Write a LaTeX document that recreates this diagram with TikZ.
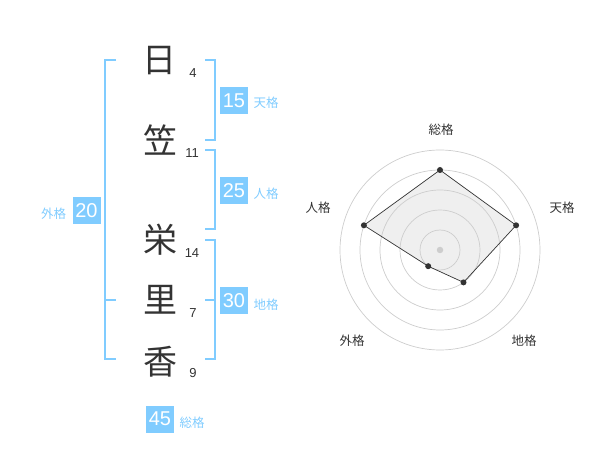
\documentclass[tikz,border=0pt]{standalone}
\usepackage{fontspec}
\setmainfont{Liberation Sans}
\newfontfamily\cjk{Noto Sans CJK JP}
\definecolor{lblue}{RGB}{128,204,255}
\definecolor{ink}{RGB}{51,51,51}
\definecolor{ring}{RGB}{205,205,205}
\definecolor{area}{RGB}{239,239,239}
\begin{document}
\begin{tikzpicture}[x=1pt,y=-1pt,
  kanji/.style={font=\cjk\fontsize{34}{34}\selectfont, text=ink, inner sep=0pt},
  strokes/.style={font=\fontsize{13}{13}\selectfont, text=ink, inner sep=0pt},
  numbox/.style={fill=lblue, text=white, minimum width=28pt, minimum height=27pt, inner sep=0pt, font=\fontsize{20}{20}\selectfont},
  kaku/.style={text=lblue, font=\cjk\fontsize{12.5}{12.5}\selectfont, inner sep=0pt},
  axislbl/.style={text=ink, font=\cjk\fontsize{12.5}{12.5}\selectfont, inner sep=0pt},
  bracket/.style={draw=lblue, line width=2pt},
  ringline/.style={draw=ring, line width=0.7pt},
  dot/.style={circle, fill=ink, inner sep=0pt, minimum size=6pt}
]
\useasboundingbox (0,0) rectangle (600,470);

% characters
\node[kanji] (c1) at (159,61) {日};
\node[kanji] (c2) at (160,140) {笠};
\node[kanji] (c3) at (160,240) {栄};
\node[kanji] (c4) at (160,300) {里};
\node[kanji] (c5) at (160,362) {香};

% stroke counts
\node[strokes] (n1) at (193,73) {4};
\node[strokes] (n2) at (192,153) {11};
\node[strokes] (n3) at (192,253) {14};
\node[strokes] (n4) at (193,313) {7};
\node[strokes] (n5) at (193,373) {9};

% brackets
\coordinate (lt) at (116,60);
\coordinate (lb) at (116,359);
\coordinate (lm) at (116,300);
\draw[bracket] (lt) -- (105,60) -- (105,359) -- (lb);
\draw[bracket] (105,300) -- (lm);

\coordinate (t1) at (205,60);
\coordinate (t2) at (205,140);
\draw[bracket] (t1) -- (215,60) -- (215,140) -- (t2);

\coordinate (j1) at (205,150);
\coordinate (j2) at (205,229);
\draw[bracket] (j1) -- (215,150) -- (215,229) -- (j2);

\coordinate (g1) at (205,240);
\coordinate (g2) at (205,359);
\coordinate (gm) at (205,300);
\draw[bracket] (g1) -- (215,240) -- (215,359) -- (g2);
\draw[bracket] (gm) -- (215,300);

% boxes and labels
\node[numbox] (b15) at (234,100.5) {15};
\node[kaku] (k15) at (266,103) {天格};
\node[numbox] (b25) at (234,190.5) {25};
\node[kaku] (k25) at (266,194) {人格};
\node[numbox] (b30) at (234,300.5) {30};
\node[kaku] (k30) at (266,305) {地格};
\node[numbox] (b20) at (86.5,210.5) {20};
\node[kaku] (k20) at (53.5,214) {外格};
\node[numbox] (b45) at (160,419) {45};
\node[kaku] (k45) at (192,423) {総格};

% radar chart
\coordinate (rc) at (440,250);
\coordinate (pS) at (440,170);
\coordinate (pT) at (516.1,225.3);
\coordinate (pC) at (463.5,282.4);
\coordinate (pG) at (428.2,266.2);
\coordinate (pJ) at (363.9,225.3);

\fill[area] (pS) -- (pT) -- (pC) -- (pG) -- (pJ) -- cycle;
\foreach \r in {20,40,60,80,100}
  \draw[ringline] (rc) circle[radius=\r];
\draw[draw=ink, line width=0.7pt, line join=round]
  (pS) -- (pT) -- (pC) -- (pG) -- (pJ) -- cycle;

\node[circle, fill=ring, inner sep=0pt, minimum size=6.5pt] (ctr) at (rc) {};
\foreach \p in {pS,pT,pC,pG,pJ}
  \node[dot] at (\p) {};

\node[axislbl] (aS) at (441,130) {総格};
\node[axislbl] (aT) at (562,208) {天格};
\node[axislbl] (aC) at (524,341) {地格};
\node[axislbl] (aG) at (352,341) {外格};
\node[axislbl] (aJ) at (318,208) {人格};
\end{tikzpicture}
\end{document}
